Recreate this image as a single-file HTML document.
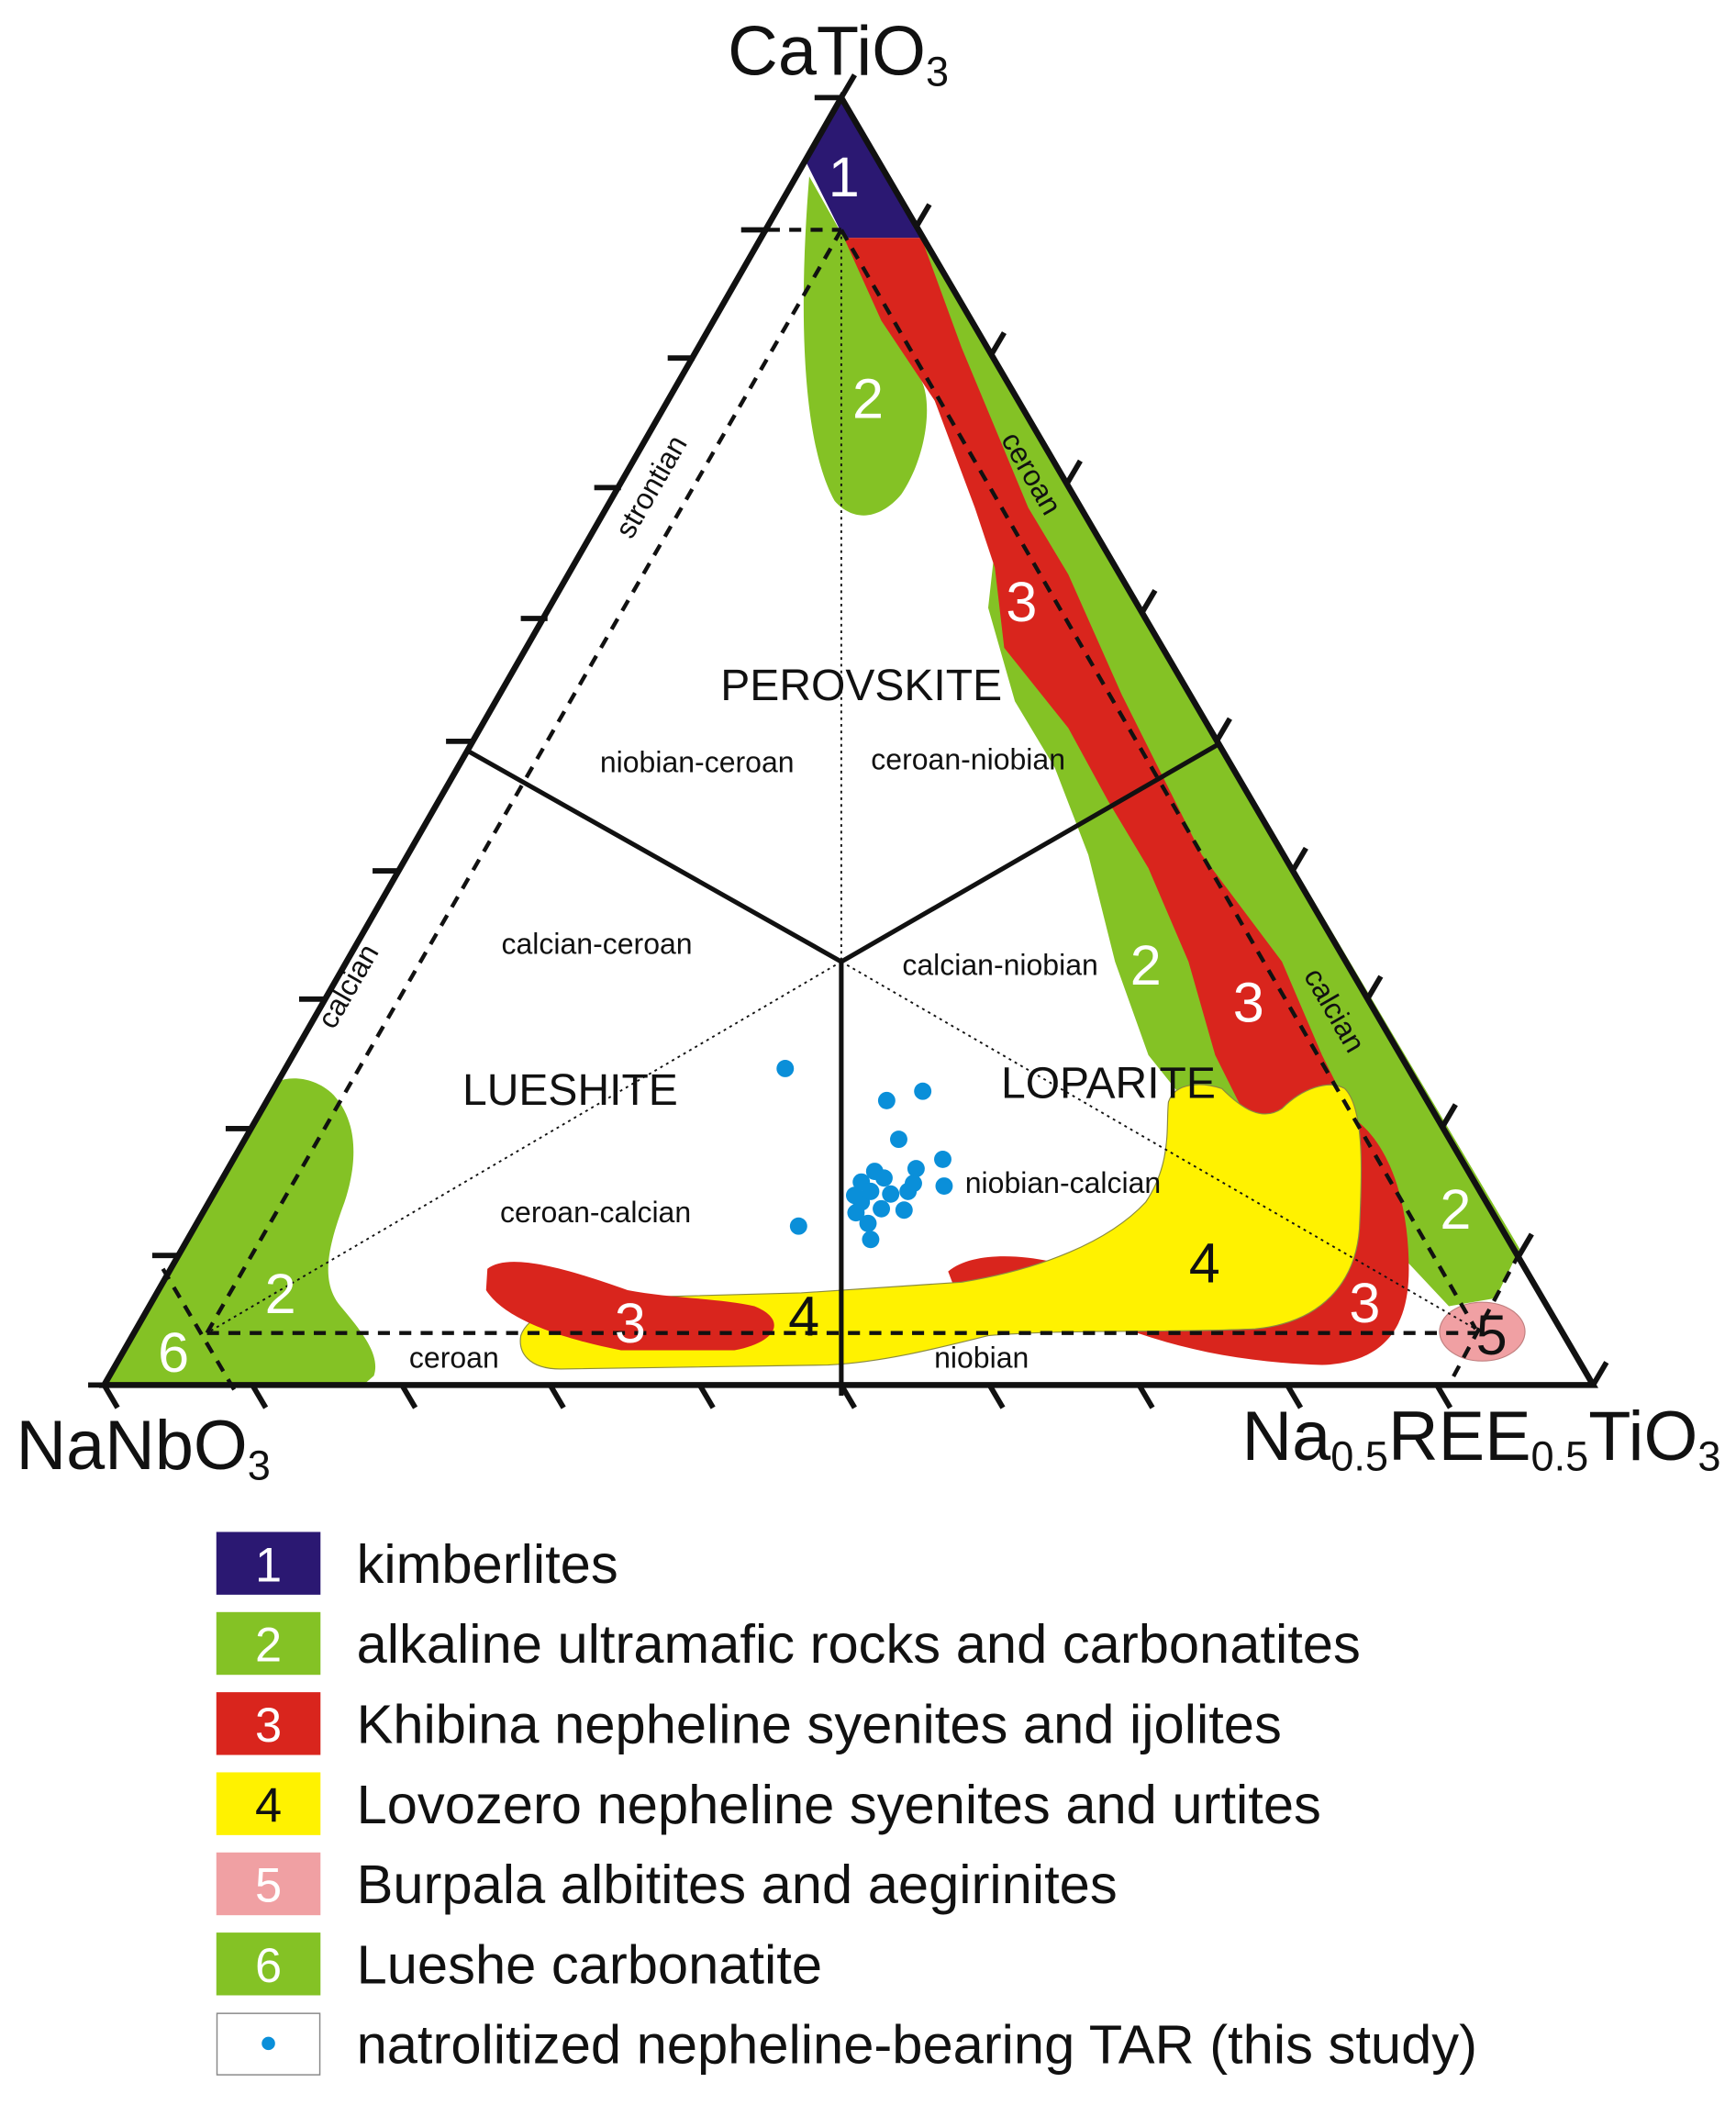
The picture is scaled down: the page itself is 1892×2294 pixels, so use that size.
<!DOCTYPE html>
<html><head><meta charset="utf-8"><style>body{margin:0;background:#fff}svg{display:block}</style></head>
<body>
<svg width="1892" height="2294" viewBox="0 0 1300 1576" xmlns="http://www.w3.org/2000/svg" font-family="Liberation Sans, Arial, sans-serif">
<!-- green right -->
<path d="M690,178 L1138,935 L1120,972 L1085,978 L1040,930 L1000,870 L900,840 L860,790 L835,720 L815,640 L790,575 L760,525 L740,455 L745,410 L700,300 L660,220 Z" fill="#84c225"/>
<!-- green top left -->
<path d="M606,132 C598,230 600,330 625,375 C640,392 660,388 675,370 C695,340 698,300 690,285 L660,235 L632,178 Z" fill="#84c225"/>
<!-- green left -->
<path d="M208,810 C215,806 235,805 250,820 C268,840 268,870 258,900 C245,935 240,960 255,978 C272,998 285,1015 280,1030 L272,1037 L78,1037 Z" fill="#84c225"/>
<!-- blue 1 -->
<path d="M630,73 L690,178 L632,178 L604,122 Z" fill="#2b1872"/>
<!-- red band -->
<path d="M632,178 L690,178 L720,260 L770,380 L800,430 L840,520 L870,580 L900,640 L960,720 L990,790 L1005,820 L935,840 L910,790 L890,720 L860,650 L830,600 L800,545 L752,485 L745,425 L730,380 L700,300 L660,240 Z" fill="#d9251d"/>
<!-- red lower right -->
<path d="M710,952 C730,935 775,940 800,948 L1000,830 C1040,845 1055,900 1055,950 C1055,990 1040,1020 990,1022 C930,1020 880,1010 830,990 C790,975 740,972 715,965 Z" fill="#d9251d"/>
<!-- yellow -->
<path d="M390,1000 C395,985 420,975 450,972 L600,968 L720,960 C780,950 830,930 858,900 C878,870 873,842 875,825 C880,810 900,810 915,815 C930,830 945,840 960,830 C975,815 995,808 1007,815 C1022,830 1020,880 1018,920 C1015,960 990,990 940,995 C880,998 800,995 740,1000 C700,1010 660,1020 620,1022 L420,1025 C395,1025 388,1012 390,1000 Z" fill="#fff200" stroke="#8a8a40" stroke-width="0.8"/>
<!-- red left (on top of yellow) -->
<path d="M365,950 C380,938 420,948 470,966 C500,972 540,972 565,978 C590,988 582,1005 550,1011 L465,1011 C420,1002 378,988 364,966 Z" fill="#d9251d"/>
<!-- pink -->
<ellipse cx="1110" cy="997" rx="32" ry="22" fill="#f0a0a3" stroke="#c08080" stroke-width="0.8"/>
<!-- dotted internal lines -->
<g stroke="#111" stroke-width="1.3" stroke-dasharray="2,3" fill="none">
<line x1="630" y1="172" x2="630" y2="720"/>
<line x1="630" y1="720" x2="155" y2="998"/>
<line x1="630" y1="720" x2="1105" y2="995"/>
</g>
<!-- dashed lines -->
<g stroke="#111" stroke-width="3" stroke-dasharray="9,7" fill="none">
<line x1="575" y1="172" x2="630" y2="172"/>
<line x1="630" y1="172" x2="155" y2="998"/>
<line x1="630" y1="172" x2="1105" y2="995"/>
<line x1="155" y1="998" x2="1105" y2="998"/>
<line x1="122" y1="950" x2="178" y2="1045"/>
<line x1="1138" y1="938" x2="1085" y2="1037"/>
</g>
<!-- solid division lines -->
<g stroke="#111" stroke-width="3.5" fill="none">
<line x1="630" y1="720" x2="630" y2="1045"/>
<line x1="630" y1="720" x2="350" y2="562"/>
<line x1="630" y1="720" x2="911" y2="558"/>
</g>
<!-- triangle -->
<path d="M630,73 L1193,1037 L78,1037 Z" fill="none" stroke="#111" stroke-width="4.5" stroke-linejoin="miter"/>
<!-- ticks -->
<g stroke="#111" stroke-width="4">
<line x1="610" y1="73" x2="630" y2="73"/>
<line x1="630" y1="73" x2="640" y2="56"/>
<line x1="555" y1="172" x2="575" y2="172"/><line x1="500" y1="268" x2="520" y2="268"/><line x1="445" y1="365" x2="465" y2="365"/><line x1="390" y1="463" x2="410" y2="463"/><line x1="334" y1="555" x2="354" y2="555"/><line x1="279" y1="652" x2="299" y2="652"/><line x1="224" y1="748" x2="244" y2="748"/><line x1="169" y1="845" x2="189" y2="845"/><line x1="114" y1="940" x2="134" y2="940"/>
<line x1="686" y1="170" x2="696" y2="153"/><line x1="742" y1="266" x2="752" y2="249"/><line x1="799" y1="362" x2="809" y2="345"/><line x1="855" y1="459" x2="865" y2="442"/><line x1="911" y1="555" x2="921" y2="538"/><line x1="968" y1="652" x2="978" y2="635"/><line x1="1024" y1="748" x2="1034" y2="731"/><line x1="1080" y1="844" x2="1090" y2="827"/><line x1="1137" y1="941" x2="1147" y2="924"/><line x1="1193" y1="1037" x2="1203" y2="1020"/>
<line x1="78" y1="1037" x2="88" y2="1054"/><line x1="189" y1="1037" x2="199" y2="1054"/><line x1="301" y1="1037" x2="311" y2="1054"/><line x1="412" y1="1037" x2="422" y2="1054"/><line x1="524" y1="1037" x2="534" y2="1054"/><line x1="630" y1="1037" x2="640" y2="1054"/><line x1="741" y1="1037" x2="751" y2="1054"/><line x1="853" y1="1037" x2="863" y2="1054"/><line x1="964" y1="1037" x2="974" y2="1054"/><line x1="1076" y1="1037" x2="1086" y2="1054"/>
<line x1="66" y1="1037" x2="78" y2="1037"/>
</g>
<!-- dots -->
<g fill="#0a8fd9">
<circle cx="588" cy="800" r="6.5"/><circle cx="664" cy="824" r="6.5"/><circle cx="691" cy="817" r="6.5"/><circle cx="673" cy="853" r="6.5"/><circle cx="706" cy="868" r="6.5"/><circle cx="707" cy="888" r="6.5"/><circle cx="655" cy="877" r="6.5"/><circle cx="645" cy="885" r="6.5"/><circle cx="662" cy="882" r="6.5"/><circle cx="686" cy="875" r="6.5"/><circle cx="680" cy="892" r="6.5"/><circle cx="645" cy="900" r="6.5"/><circle cx="660" cy="905" r="6.5"/><circle cx="677" cy="906" r="6.5"/><circle cx="650" cy="916" r="6.5"/><circle cx="641" cy="908" r="6.5"/><circle cx="652" cy="928" r="6.5"/><circle cx="598" cy="918" r="6.5"/><circle cx="652" cy="892" r="6.5"/><circle cx="667" cy="894" r="6.5"/><circle cx="640" cy="895" r="6.5"/><circle cx="684" cy="886" r="6.5"/>
</g>
<!-- region numbers -->
<g font-size="42" text-anchor="middle" fill="#fff">
<text x="632" y="147">1</text><text x="650" y="313">2</text><text x="765" y="465">3</text><text x="935" y="765">3</text><text x="858" y="737">2</text><text x="1090" y="920">2</text><text x="1022" y="990">3</text><text x="472" y="1005">3</text><text x="210" y="983">2</text><text x="130" y="1027">6</text>
</g>
<g font-size="42" text-anchor="middle" fill="#111">
<text x="902" y="960">4</text><text x="602" y="1000">4</text><text x="1117" y="1014">5</text>
</g>
<!-- labels -->
<g fill="#111" text-anchor="middle">
<text x="645" y="524" font-size="33">PEROVSKITE</text>
<text x="427" y="827" font-size="33">LUESHITE</text>
<text x="830" y="822" font-size="33">LOPARITE</text>
<g font-size="22">
<text x="522" y="578">niobian-ceroan</text><text x="725" y="576">ceroan-niobian</text><text x="447" y="714">calcian-ceroan</text><text x="749" y="730">calcian-niobian</text><text x="446" y="915">ceroan-calcian</text><text x="796" y="893">niobian-calcian</text><text x="340" y="1024">ceroan</text><text x="735" y="1024">niobian</text>
<text transform="translate(494,368) rotate(-60)">strontian</text>
<text transform="translate(766,358) rotate(60)">ceroan</text>
<text transform="translate(267,742) rotate(-60)">calcian</text>
<text transform="translate(993,760) rotate(60)">calcian</text>
</g>
</g>
<!-- corner titles -->
<g fill="#111" font-size="52">
<text x="545" y="56">CaTiO<tspan font-size="31" dy="8">3</tspan></text>
<text x="12" y="1100">NaNbO<tspan font-size="31" dy="8">3</tspan></text>
<text x="930" y="1093">Na<tspan font-size="31" dy="8">0.5</tspan><tspan dy="-8">REE</tspan><tspan font-size="31" dy="8">0.5</tspan><tspan dy="-8">TiO</tspan><tspan font-size="31" dy="8">3</tspan></text>
</g>
<!-- legend -->
<g font-size="41" fill="#111">
<rect x="162" y="1147" width="78" height="47" fill="#2b1872"/>
<rect x="162" y="1207" width="78" height="47" fill="#84c225"/>
<rect x="162" y="1267" width="78" height="47" fill="#d9251d"/>
<rect x="162" y="1327" width="78" height="47" fill="#fff200"/>
<rect x="162" y="1387" width="78" height="47" fill="#f0a0a3"/>
<rect x="162" y="1447" width="78" height="47" fill="#84c225"/>
<rect x="162.5" y="1507.5" width="77" height="46" fill="#fff" stroke="#888" stroke-width="1"/>
<circle cx="201" cy="1530" r="5" fill="#0a8fd9"/>
<g text-anchor="middle" font-size="36">
<text x="201" y="1184" fill="#fff">1</text><text x="201" y="1244" fill="#fff">2</text><text x="201" y="1304" fill="#fff">3</text><text x="201" y="1364" fill="#111">4</text><text x="201" y="1424" fill="#fff">5</text><text x="201" y="1484" fill="#fff">6</text>
</g>
<text x="267" y="1185">kimberlites</text>
<text x="267" y="1245">alkaline ultramafic rocks and carbonatites</text>
<text x="267" y="1305">Khibina nepheline syenites and ijolites</text>
<text x="267" y="1365">Lovozero nepheline syenites and urtites</text>
<text x="267" y="1425">Burpala albitites and aegirinites</text>
<text x="267" y="1485">Lueshe carbonatite</text>
<text x="267" y="1545">natrolitized nepheline-bearing TAR (this study)</text>
</g>
</svg>
</body></html>
